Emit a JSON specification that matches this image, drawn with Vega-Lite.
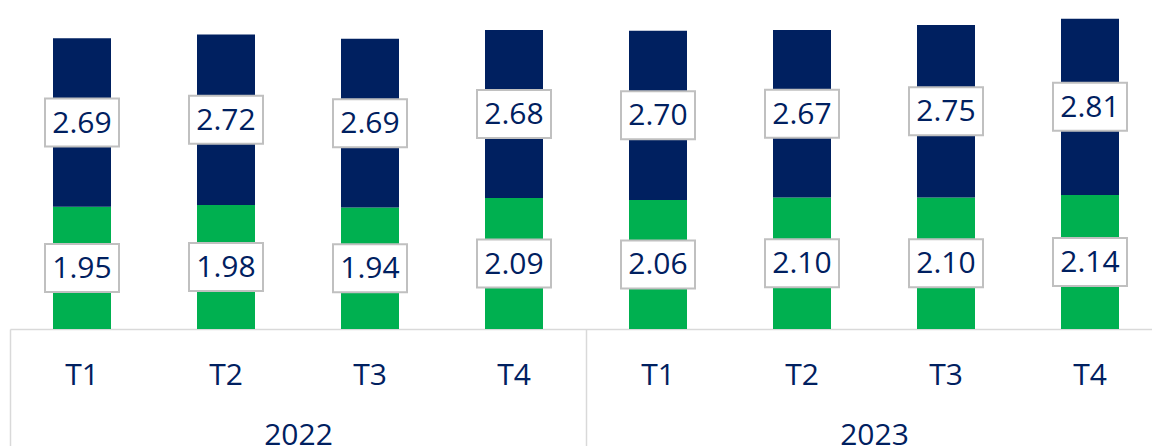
{
  "$schema": "https://vega.github.io/schema/vega-lite/v6.json",
  "width": 1152,
  "height": 329,
  "autosize": {"type": "none"},
  "padding": {"left": 0, "top": 0, "right": 0, "bottom": 117},
  "background": "white",
  "config": {"view": {"stroke": null}, "font": "Open Sans"},
  "data": {
    "values": [
      {"year": "2022", "key": "2022-T1", "series": "A", "value": 1.95},
      {"year": "2022", "key": "2022-T1", "series": "B", "value": 2.69},
      {"year": "2022", "key": "2022-T2", "series": "A", "value": 1.98},
      {"year": "2022", "key": "2022-T2", "series": "B", "value": 2.72},
      {"year": "2022", "key": "2022-T3", "series": "A", "value": 1.94},
      {"year": "2022", "key": "2022-T3", "series": "B", "value": 2.69},
      {"year": "2022", "key": "2022-T4", "series": "A", "value": 2.09},
      {"year": "2022", "key": "2022-T4", "series": "B", "value": 2.68},
      {"year": "2023", "key": "2023-T1", "series": "A", "value": 2.06},
      {"year": "2023", "key": "2023-T1", "series": "B", "value": 2.70},
      {"year": "2023", "key": "2023-T2", "series": "A", "value": 2.10},
      {"year": "2023", "key": "2023-T2", "series": "B", "value": 2.67},
      {"year": "2023", "key": "2023-T3", "series": "A", "value": 2.10},
      {"year": "2023", "key": "2023-T3", "series": "B", "value": 2.75},
      {"year": "2023", "key": "2023-T4", "series": "A", "value": 2.14},
      {"year": "2023", "key": "2023-T4", "series": "B", "value": 2.81}
    ]
  },
  "transform": [
    {"stack": "value", "groupby": ["key"], "sort": [{"field": "series", "order": "ascending"}], "as": ["v0", "v1"]},
    {"calculate": "(datum.v0 + datum.v1) / 2", "as": "mid"}
  ],
  "layer": [
    {
      "layer": [
        {
          "mark": {"type": "bar", "width": 58},
          "encoding": {
            "x": {
              "field": "key", "type": "nominal",
              "scale": {"range": [10, 1162], "paddingInner": 0, "paddingOuter": 0},
              "axis": {
                "orient": "bottom", "offset": 0, "ticks": false, "tickSize": 0,
                "domainColor": "#d9d9d9", "domainWidth": 1.5,
                "labelExpr": "split(datum.value, '-')[1]",
                "labelFontSize": 30, "labelColor": "#002060", "labelPadding": 31,
                "labelAngle": 0, "title": null, "grid": false, "labelFont": "Open Sans"
              }
            },
            "y": {"field": "v0", "type": "quantitative", "scale": {"domain": [0, 5.25], "nice": false, "zero": true}, "axis": null},
            "y2": {"field": "v1"},
            "color": {"field": "series", "type": "nominal", "scale": {"domain": ["A", "B"], "range": ["#00B050", "#002060"]}, "legend": null}
          }
        },
        {
          "mark": {"type": "bar", "width": 74, "yOffset": -24, "y2Offset": 24, "fill": "white", "stroke": "#c0c0c0", "strokeWidth": 2},
          "encoding": {
            "x": {"field": "key", "type": "nominal"},
            "y": {"field": "mid", "type": "quantitative"},
            "y2": {"field": "mid"}
          }
        },
        {
          "mark": {"type": "text", "fontSize": 30, "color": "#002060", "baseline": "middle", "align": "center", "font": "Open Sans", "dy": 1},
          "encoding": {
            "x": {"field": "key", "type": "nominal"},
            "y": {"field": "mid", "type": "quantitative"},
            "text": {"field": "value", "type": "quantitative", "format": ".2f"}
          }
        }
      ]
    },
    {
      "mark": {"type": "text", "text": ""},
      "encoding": {
        "x": {
          "field": "year", "type": "nominal",
          "scale": {"range": [10, 1162], "paddingInner": 0, "paddingOuter": 0},
          "axis": {
            "orient": "bottom", "offset": 0, "tickBand": "extent", "tickSize": 117,
            "tickColor": "#d9d9d9", "tickWidth": 1.5, "domain": false,
            "labelFontSize": 30, "labelColor": "#002060", "labelPadding": -26,
            "labelAngle": 0, "title": null, "grid": false, "labelFont": "Open Sans"
          }
        }
      }
    }
  ],
  "resolve": {"scale": {"x": "independent"}}
}
